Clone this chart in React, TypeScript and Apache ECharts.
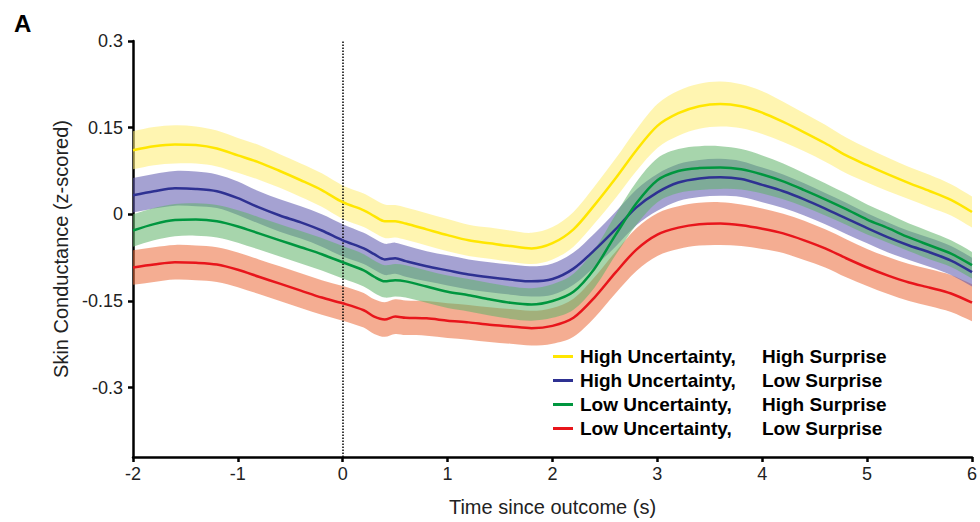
import React, { useEffect, useRef } from "react";
import * as echarts from "echarts";

// Time since outcome (s)
const time = [-2, -1.8, -1.6, -1.4, -1.2, -1, -0.8, -0.6, -0.4, -0.2, 0, 0.2, 0.3, 0.4, 0.5, 0.6, 0.8, 1, 1.2, 1.4, 1.6, 1.8, 2, 2.2, 2.4, 2.6, 2.8, 3, 3.2, 3.4, 3.6, 3.8, 4, 4.2, 4.4, 4.6, 4.8, 5, 5.2, 5.4, 5.6, 5.8, 6];

// High Uncertainty, High Surprise
const hiUncHiSurMean = [0.111, 0.118, 0.121, 0.12, 0.114, 0.102, 0.09, 0.075, 0.059, 0.042, 0.021, 0.007, -0.003, -0.012, -0.012, -0.016, -0.026, -0.036, -0.045, -0.05, -0.055, -0.059, -0.05, -0.026, 0.016, 0.062, 0.111, 0.153, 0.175, 0.187, 0.191, 0.187, 0.176, 0.16, 0.142, 0.123, 0.102, 0.085, 0.069, 0.054, 0.04, 0.025, 0.004];
const hiUncHiSurErr = [0.033, 0.033, 0.033, 0.032, 0.031, 0.03, 0.03, 0.029, 0.029, 0.029, 0.029, 0.029, 0.029, 0.029, 0.028, 0.028, 0.028, 0.028, 0.027, 0.027, 0.027, 0.027, 0.028, 0.03, 0.032, 0.034, 0.036, 0.038, 0.039, 0.039, 0.039, 0.038, 0.037, 0.035, 0.033, 0.032, 0.031, 0.03, 0.029, 0.028, 0.028, 0.027, 0.027];

// High Uncertainty, Low Surprise
const hiUncLoSurMean = [0.033, 0.04, 0.045, 0.044, 0.04, 0.028, 0.012, -0.002, -0.014, -0.028, -0.045, -0.059, -0.069, -0.078, -0.076, -0.081, -0.09, -0.097, -0.104, -0.109, -0.113, -0.116, -0.112, -0.094, -0.062, -0.026, 0.012, 0.038, 0.055, 0.062, 0.064, 0.061, 0.051, 0.04, 0.026, 0.01, -0.007, -0.024, -0.04, -0.054, -0.066, -0.08, -0.1];
const hiUncLoSurErr = [0.03, 0.03, 0.03, 0.03, 0.029, 0.029, 0.028, 0.028, 0.028, 0.028, 0.028, 0.027, 0.027, 0.027, 0.027, 0.027, 0.026, 0.026, 0.026, 0.026, 0.026, 0.026, 0.027, 0.028, 0.029, 0.03, 0.031, 0.032, 0.032, 0.032, 0.032, 0.031, 0.03, 0.029, 0.028, 0.027, 0.027, 0.026, 0.026, 0.025, 0.025, 0.025, 0.025];

// Low Uncertainty, High Surprise
const loUncHiSurMean = [-0.028, -0.017, -0.01, -0.009, -0.012, -0.021, -0.033, -0.045, -0.057, -0.069, -0.083, -0.097, -0.108, -0.116, -0.114, -0.116, -0.125, -0.134, -0.14, -0.147, -0.153, -0.156, -0.15, -0.134, -0.094, -0.036, 0.019, 0.059, 0.075, 0.08, 0.081, 0.078, 0.069, 0.057, 0.042, 0.026, 0.009, -0.009, -0.024, -0.04, -0.054, -0.068, -0.088];
const loUncHiSurErr = [0.028, 0.028, 0.028, 0.028, 0.028, 0.028, 0.028, 0.028, 0.028, 0.028, 0.028, 0.028, 0.028, 0.028, 0.028, 0.028, 0.028, 0.028, 0.028, 0.028, 0.028, 0.028, 0.029, 0.031, 0.033, 0.035, 0.037, 0.038, 0.038, 0.038, 0.037, 0.035, 0.033, 0.031, 0.029, 0.028, 0.027, 0.026, 0.025, 0.024, 0.024, 0.023, 0.023];

// Low Uncertainty, Low Surprise
const loUncLoSurMean = [-0.092, -0.087, -0.083, -0.084, -0.087, -0.096, -0.108, -0.12, -0.132, -0.144, -0.154, -0.166, -0.177, -0.182, -0.177, -0.179, -0.18, -0.184, -0.187, -0.191, -0.194, -0.197, -0.193, -0.179, -0.144, -0.101, -0.061, -0.035, -0.023, -0.017, -0.016, -0.019, -0.025, -0.033, -0.045, -0.059, -0.076, -0.092, -0.106, -0.118, -0.127, -0.137, -0.153];
const loUncLoSurErr = [0.03, 0.03, 0.03, 0.03, 0.03, 0.03, 0.03, 0.03, 0.03, 0.03, 0.03, 0.03, 0.03, 0.03, 0.03, 0.03, 0.03, 0.03, 0.03, 0.03, 0.03, 0.03, 0.031, 0.033, 0.035, 0.036, 0.037, 0.037, 0.037, 0.037, 0.037, 0.036, 0.035, 0.034, 0.034, 0.033, 0.033, 0.032, 0.032, 0.032, 0.032, 0.032, 0.032];

const seriesNames = [
  "High Uncertainty, High Surprise",
  "High Uncertainty, Low Surprise",
  "Low Uncertainty, High Surprise",
  "Low Uncertainty, Low Surprise",
];
const yTicks = [-0.3, -0.15, 0, 0.15, 0.3];

const FONT = "'Liberation Sans', Arial, Helvetica, sans-serif";

const groups = [
  { name: seriesNames[0], mean: hiUncHiSurMean, err: hiUncHiSurErr, line: "#FFE600", band: "#FFED71", bandZ: 1 },
  { name: seriesNames[1], mean: hiUncLoSurMean, err: hiUncLoSurErr, line: "#2E3192", band: "#5B56AD", bandZ: 3 },
  { name: seriesNames[2], mean: loUncHiSurMean, err: loUncHiSurErr, line: "#00963F", band: "#5FB368", bandZ: 4 },
  { name: seriesNames[3], mean: loUncLoSurMean, err: loUncLoSurErr, line: "#E8151B", band: "#EB6A39", bandZ: 2 },
];

const SMOOTH = 0.3;

// cubic Hermite spline through pixel points (x increasing or decreasing)
function splinePath(pts: number[][], start: "M" | "L"): string {
  const n = pts.length;
  const slope: number[] = [];
  for (let i = 0; i < n; i++) {
    const a = pts[Math.max(i - 1, 0)];
    const b = pts[Math.min(i + 1, n - 1)];
    slope.push((b[1] - a[1]) / (b[0] - a[0]));
  }
  let d = start + pts[0][0].toFixed(2) + "," + pts[0][1].toFixed(2);
  for (let i = 0; i < n - 1; i++) {
    const p = pts[i];
    const q = pts[i + 1];
    const h = (q[0] - p[0]) / 3;
    const c1x = p[0] + h;
    const c1y = p[1] + slope[i] * h;
    const c2x = q[0] - h;
    const c2y = q[1] - slope[i + 1] * h;
    d += " C" + c1x.toFixed(2) + "," + c1y.toFixed(2) + " " + c2x.toFixed(2) + "," + c2y.toFixed(2) + " " + q[0].toFixed(2) + "," + q[1].toFixed(2);
  }
  return d;
}

export default function App() {
  const ref = useRef<HTMLDivElement>(null);
  useEffect(() => {
    if (!ref.current) return;
    const chart = echarts.init(ref.current, undefined, { renderer: "svg" });
    const series: any[] = [];
    groups.forEach((g) => {
      series.push({
        type: "custom",
        silent: true,
        clip: true,
        z: g.bandZ,
        data: time.map((t, i) => [t, g.mean[i] - g.err[i], g.mean[i] + g.err[i]]),
        encode: { x: 0, y: [1, 2] },
        renderItem: (params: any, api: any) => {
          if (params.dataIndex !== 0) return null;
          const upper: number[][] = [];
          const lower: number[][] = [];
          for (let i = 0; i < time.length; i++) {
            upper.push(api.coord([time[i], g.mean[i] + g.err[i]]));
            lower.push(api.coord([time[i], g.mean[i] - g.err[i]]));
          }
          lower.reverse();
          const d = splinePath(upper, "M") + " " + splinePath(lower, "L") + " Z";
          return {
            type: "path",
            shape: { pathData: d },
            style: { fill: g.band, opacity: 0.55, stroke: "none" },
          };
        },
      });
    });
    groups.forEach((g, gi) => {
      const s: any = {
        type: "line",
        name: g.name,
        smooth: SMOOTH,
        symbol: "none",
        z: 10,
        color: g.line,
        itemStyle: { color: g.line },
        lineStyle: { color: g.line, width: 2.5 },
        data: time.map((t, i) => [t, g.mean[i]]),
      };
      if (gi === 0) {
        s.markLine = {
          silent: true,
          symbol: ["none", "none"],
          label: { show: false },
          lineStyle: { color: "#000", type: "dotted", width: 1.5 },
          data: [{ xAxis: 0 }],
        };
      }
      series.push(s);
    });

    chart.setOption({
      animation: false,
      backgroundColor: "#fff",
      title: {
        text: "A",
        left: 9,
        top: 6,
        textStyle: { fontFamily: FONT, fontSize: 24, fontWeight: "bold", color: "#000" },
      },
      grid: { left: 133, right: 7, top: 41, bottom: 65, containLabel: false },
      xAxis: {
        type: "value",
        min: -2,
        max: 6,
        interval: 1,
        name: "Time since outcome (s)",
        nameLocation: "middle",
        nameGap: 40,
        nameTextStyle: { fontFamily: FONT, fontSize: 20, color: "#222" },
        axisLine: { onZero: false, lineStyle: { color: "#000", width: 2.5 } },
        axisTick: { show: true, length: 5, lineStyle: { color: "#000", width: 2.5 } },
        axisLabel: { fontFamily: FONT, fontSize: 18, color: "#222", margin: 8 },
        splitLine: { show: false },
      },
      yAxis: {
        type: "value",
        min: -0.42,
        max: 0.3,
        name: "Skin Conductance (z-scored)",
        nameLocation: "middle",
        nameGap: 61,
        nameRotate: 90,
        nameTextStyle: { fontFamily: FONT, fontSize: 20, color: "#222" },
        axisLine: { show: true, onZero: false, lineStyle: { color: "#000", width: 2.5 } },
        axisTick: { show: true, length: 5, customValues: yTicks, lineStyle: { color: "#000", width: 2.5 } },
        axisLabel: { fontFamily: FONT, fontSize: 18, color: "#222", margin: 10, customValues: yTicks },
        splitLine: { show: false },
      },
      legend: {
        data: seriesNames,
        orient: "vertical",
        left: 548,
        top: 342,
        itemWidth: 20,
        itemHeight: 3,
        itemGap: 5,
        icon: "rect",
        selectedMode: false,
        formatter: (name: string) => {
          const parts = name.split(", ");
          return "{a|" + parts[0] + ",}{b|" + parts[1] + "}";
        },
        textStyle: {
          fontFamily: FONT,
          fontSize: 19,
          fontWeight: "bold",
          color: "#000",
          rich: {
            a: { fontFamily: FONT, fontSize: 19, fontWeight: "bold", color: "#000", width: 182, padding: [0, 0, 0, 2] },
            b: { fontFamily: FONT, fontSize: 19, fontWeight: "bold", color: "#000" },
          },
        },
      },
      series,
    });
    return () => chart.dispose();
  }, []);
  return (
    <div
      ref={ref}
      style={{ position: "absolute", left: 0, top: 0, width: 980, height: 522 }}
    />
  );
}
